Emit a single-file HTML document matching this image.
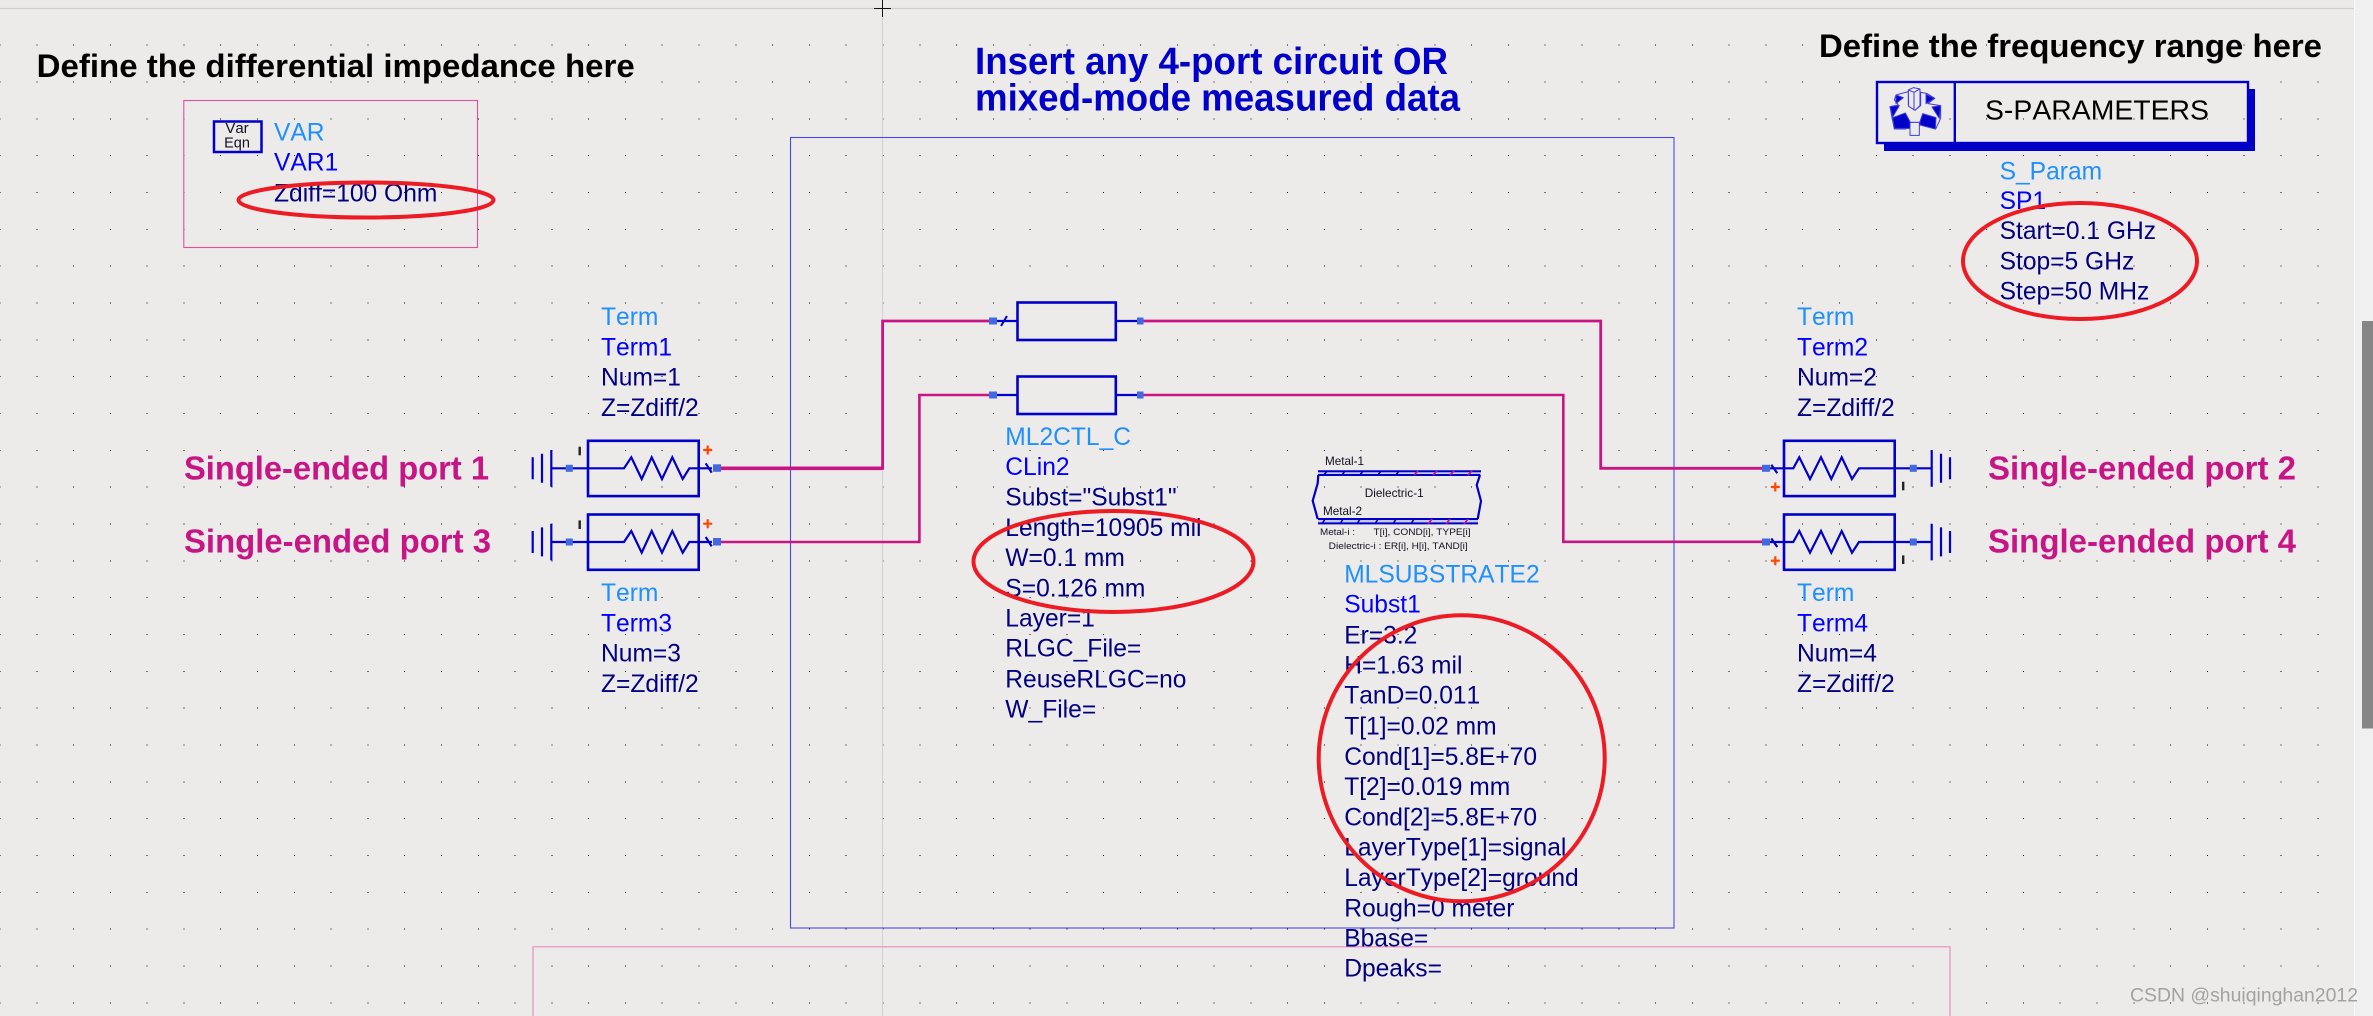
<!DOCTYPE html>
<html>
<head>
<meta charset="utf-8">
<style>
html,body{margin:0;padding:0;width:2373px;height:1016px;overflow:hidden;background:#edeaea}
svg{display:block}
text{font-family:"Liberation Sans",sans-serif;font-size:24.6px;white-space:pre;font-kerning:none}
.t{fill:#1e90ff}.n{fill:#0000ff}.p{fill:#000080}
.h{font-weight:bold;fill:#000;font-size:32.5px}
.b{font-weight:bold;fill:#0000c8;font-size:38px}
.m{font-weight:bold;fill:#c71585;font-size:33.5px}
.s{fill:#101020;font-size:12px}
.x{fill:#101020;font-size:9.5px}
</style>
</head>
<body>
<svg width="2373" height="1016" viewBox="0 0 2373 1016" xmlns="http://www.w3.org/2000/svg">
<defs>
<g id="termL">
  <rect x="588" y="-27.5" width="110.7" height="55.3" fill="none" stroke="#0000c8" stroke-width="2.6"/>
  <path d="M551.3 0H624L631.3 -11L641.7 10.7L651.7 -11L662 10.7L672.3 -11L682.7 10.7L689.3 0H712" fill="none" stroke="#0000c8" stroke-width="2.2"/>
  <path d="M551.3 -18.3V18.4M542 -14.6V14.4M532.7 -11V11" fill="none" stroke="#0000c8" stroke-width="2.2"/>
  <path d="M705.7 -5L711.7 4.4" fill="none" stroke="#0000c8" stroke-width="2.2"/>
  <rect x="565.8" y="-3.5" width="7" height="7" fill="#4169e1"/>
  <rect x="713" y="-4" width="8" height="7.5" fill="#4169e1"/>
  <rect x="578.5" y="-21.6" width="2.4" height="8.6" fill="#222"/>
  <path d="M703.2 -18.3H712.2M707.7 -22.8V-13.8" stroke="#ff4500" stroke-width="2.2" fill="none"/>
</g>
<g id="termR">
  <rect x="1784" y="-27.5" width="110.7" height="55.3" fill="none" stroke="#0000c8" stroke-width="2.6"/>
  <path d="M1766 0H1793.3L1799.3 -11L1810 10.7L1821 -11L1831.3 10.7L1841.7 -11L1852 10.7L1859 0H1931.7" fill="none" stroke="#0000c8" stroke-width="2.2"/>
  <path d="M1931.7 -18.3V18.4M1941 -14.6V14.4M1950 -11V11" fill="none" stroke="#0000c8" stroke-width="2.2"/>
  <path d="M1771.3 -3.5L1777.3 5" fill="none" stroke="#0000c8" stroke-width="2.2"/>
  <rect x="1762" y="-3.5" width="8" height="7" fill="#4169e1"/>
  <rect x="1909.8" y="-3.5" width="7" height="7" fill="#4169e1"/>
  <rect x="1902" y="13.4" width="2.4" height="8.6" fill="#222"/>
  <path d="M1770.8 18.7H1779.8M1775.3 14.2V23.2" stroke="#ff4500" stroke-width="2.2" fill="none"/>
</g>
</defs>

<rect width="2373" height="1016" fill="#edeaea"/>

<!-- grid dots -->
<path shape-rendering="crispEdges" d="M-0.5 8.4H2354M-0.5 45.2H2354M-0.5 82.1H2354M-0.5 118.9H2354M-0.5 155.7H2354M-0.5 192.6H2354M-0.5 229.4H2354M-0.5 266.2H2354M-0.5 303H2354M-0.5 339.9H2354M-0.5 376.7H2354M-0.5 413.5H2354M-0.5 450.4H2354M-0.5 487.2H2354M-0.5 524H2354M-0.5 560.9H2354M-0.5 597.7H2354M-0.5 634.5H2354M-0.5 671.3H2354M-0.5 708.2H2354M-0.5 745H2354M-0.5 781.8H2354M-0.5 818.7H2354M-0.5 855.5H2354M-0.5 892.3H2354M-0.5 929.2H2354M-0.5 966H2354M-0.5 1002.8H2354" fill="none" stroke="#000" stroke-width="1" stroke-dasharray="1 35.79"/>

<!-- crosshair guides -->
<path d="M0 8.5H2354" stroke="#cfcfcf" stroke-width="1.2" fill="none"/>
<path d="M882.5 0V1016" stroke="#d2d2d2" stroke-width="1" fill="none"/>
<path d="M874 8.5H891M882.5 0V17" stroke="#111" stroke-width="1" fill="none"/>

<!-- right strip -->
<rect x="2354" y="0" width="19" height="1016" fill="#f0f0f0"/>
<rect x="2354" y="0" width="1" height="1016" fill="#fafafa"/>
<rect x="2362" y="321" width="11" height="407.5" fill="#868686"/>

<!-- frames -->
<rect x="183.8" y="100.5" width="293.7" height="147" fill="none" stroke="#e050a0" stroke-width="1.1"/>
<rect x="790.5" y="137.5" width="883.5" height="790.5" fill="none" stroke="#4a4ae0" stroke-width="1.1"/>
<path d="M533 1016V946.8H1950V1016" fill="none" stroke="#e68ec0" stroke-width="1.2"/>

<!-- headings -->
<text class="h" x="36.7" y="77" textLength="598" lengthAdjust="spacingAndGlyphs">Define the differential impedance here</text>
<text class="h" x="1819" y="57" textLength="503" lengthAdjust="spacingAndGlyphs">Define the frequency range here</text>
<text class="b" x="975" y="74" textLength="473" lengthAdjust="spacingAndGlyphs">Insert any 4-port circuit OR</text>
<text class="b" x="975" y="110.7" textLength="485" lengthAdjust="spacingAndGlyphs">mixed-mode measured data</text>

<!-- VAR -->
<rect x="214" y="121.5" width="47.5" height="30.5" fill="none" stroke="#0000c8" stroke-width="2.5"/>
<text x="237" y="133" text-anchor="middle" style="font-size:15px" fill="#101020">Var</text>
<text x="237" y="147.7" text-anchor="middle" style="font-size:14.5px" fill="#101020">Eqn</text>
<text class="t" x="274" y="140.7">VAR</text>
<text class="n" x="274" y="170.7">VAR1</text>
<text class="p" x="274" y="201.3">Zdiff=100 Ohm</text>

<!-- S-Parameters block -->
<path d="M1884 144H2248.5V89H2255V151H1884Z" fill="#0000c8"/>
<rect x="1877" y="82" width="371" height="61" fill="none" stroke="#0000c8" stroke-width="2.4"/>
<rect x="1953.6" y="82" width="2.4" height="61" fill="#0000c8"/>
<g transform="translate(1870 75) scale(.3333)" stroke="#3c3ce0" stroke-width="3" stroke-linejoin="round">
  <path d="M78 60L115 50V90L135 105L152 92V52L170 55L194 70L174 86L212 92V130L197 162L155 147V142H120V158L105 162H73L66 128L60 95L85 90L73 75Z" fill="#edeaea"/>
  <path d="M78 60L100 68L78 86ZM168 58L194 70L168 86ZM60 95L88 92L68 126ZM186 96L212 92L208 130Z" fill="#0000c8"/>
  <path d="M68 128L106 114L120 140V160L73 160ZM150 140L158 116L198 128L196 162L150 150Z" fill="#0000c8"/>
  <path d="M120 142H148V181H120Z" fill="#edeaea"/>
  <path d="M115 45L130 38L150 42V92L135 106L116 94Z" fill="#edeaea"/>
  <path d="M115 45L132 52L150 42M132 52V106" fill="none"/>
</g>
<text x="1985" y="119.3" style="font-size:28px" fill="#000" textLength="224" lengthAdjust="spacingAndGlyphs">S-PARAMETERS</text>
<text class="t" x="1999.6" y="179.3">S_Param</text>
<text class="n" x="1999.6" y="209">SP1</text>
<text class="p" x="1999.6" y="239">Start=0.1 GHz</text>
<text class="p" x="1999.6" y="269.3">Stop=5 GHz</text>
<text class="p" x="1999.6" y="299.3">Step=50 MHz</text>

<!-- Wires -->
<path d="M721 468.3H882.6V321H993" fill="none" stroke="#c71585" stroke-width="2.8"/>
<path d="M721 468.3H882" fill="none" stroke="#c71585" stroke-width="3.6"/>
<path d="M721 542H919.4V395H993" fill="none" stroke="#c71585" stroke-width="2.6"/>
<path d="M1140 321H1600.7V468.3H1766" fill="none" stroke="#c71585" stroke-width="2.8"/>
<path d="M1140 395H1563.3V541.8H1766" fill="none" stroke="#c71585" stroke-width="2.6"/>

<!-- Terminations -->
<use href="#termL" transform="translate(0 468.3)"/>
<use href="#termL" transform="translate(0 542)"/>
<use href="#termR" transform="translate(0 468.3)"/>
<use href="#termR" transform="translate(0 542)"/>

<text class="t" x="601" y="325">Term</text>
<text class="n" x="601" y="355.3">Term1</text>
<text class="p" x="601" y="385.6">Num=1</text>
<text class="p" x="601" y="416">Z=Zdiff/2</text>
<text class="t" x="601" y="601">Term</text>
<text class="n" x="601" y="631.3">Term3</text>
<text class="p" x="601" y="661.6">Num=3</text>
<text class="p" x="601" y="692">Z=Zdiff/2</text>

<text class="t" x="1797" y="325">Term</text>
<text class="n" x="1797" y="355.3">Term2</text>
<text class="p" x="1797" y="385.6">Num=2</text>
<text class="p" x="1797" y="416">Z=Zdiff/2</text>
<text class="t" x="1797" y="601">Term</text>
<text class="n" x="1797" y="631.3">Term4</text>
<text class="p" x="1797" y="661.6">Num=4</text>
<text class="p" x="1797" y="692">Z=Zdiff/2</text>

<text class="m" x="184" y="479.3" textLength="305" lengthAdjust="spacingAndGlyphs">Single-ended port 1</text>
<text class="m" x="184" y="552.7" textLength="307" lengthAdjust="spacingAndGlyphs">Single-ended port 3</text>
<text class="m" x="1988" y="479.3" textLength="308" lengthAdjust="spacingAndGlyphs">Single-ended port 2</text>
<text class="m" x="1988" y="552.7" textLength="308" lengthAdjust="spacingAndGlyphs">Single-ended port 4</text>

<!-- Coupled line symbol -->
<rect x="1017.5" y="302.5" width="98.3" height="37.5" fill="none" stroke="#0000c8" stroke-width="2.6"/>
<rect x="1017.5" y="376.5" width="98.3" height="37.5" fill="none" stroke="#0000c8" stroke-width="2.6"/>
<path d="M993 321H1017.5M1115.8 321H1140M993 395H1017.5M1115.8 395H1140" stroke="#0000c8" stroke-width="2.2" fill="none"/>
<path d="M1001 326L1007 316" stroke="#0000c8" stroke-width="2" fill="none"/>
<rect x="989" y="317.5" width="8" height="7" fill="#4169e1"/>
<rect x="989" y="391.5" width="8" height="7" fill="#4169e1"/>
<rect x="1137" y="317.5" width="6.5" height="7" fill="#4169e1"/>
<rect x="1137" y="391.5" width="6.5" height="7" fill="#4169e1"/>

<text class="t" x="1005.3" y="445">ML2CTL_C</text>
<text class="n" x="1005.3" y="475">CLin2</text>
<text class="p" x="1005.3" y="505.7">Subst="Subst1"</text>
<text class="p" x="1005.3" y="536">Length=10905 mil</text>
<text class="p" x="1005.3" y="566">W=0.1 mm</text>
<text class="p" x="1005.3" y="596.7">S=0.126 mm</text>
<text class="p" x="1005.3" y="626.7">Layer=1</text>
<text class="p" x="1005.3" y="656.7">RLGC_File=</text>
<text class="p" x="1005.3" y="687.3">ReuseRLGC=no</text>
<text class="p" x="1005.3" y="717.7">W_File=</text>

<!-- Substrate symbol -->
<rect x="1318" y="471" width="163" height="4.2" fill="#c9c9ee"/>
<rect x="1318" y="519" width="160" height="4.6" fill="#c9c9ee"/>
<path d="M1318 471.2H1481M1318 475H1480M1318 519H1478M1318 523.4H1478" stroke="#0000c8" stroke-width="2" fill="none"/>
<path d="M1318.3 475L1317.7 483.3L1312.7 500.7L1317.7 519M1480 475L1476.7 485L1481 501L1477.7 519" stroke="#0000c8" stroke-width="2.2" fill="none"/>
<path d="M1324 475L1327 471M1342 475L1345 471M1360 475L1363 471M1378 475L1381 471M1396 475L1399 471M1322 524L1325 519M1340 524L1343 519M1357 524L1360 519M1375 524L1378 519M1393 524L1396 519M1411 524L1414 519" stroke="#0000c8" stroke-width="1.6" fill="none"/>
<path d="M1414 475L1418 471M1433 475L1437 471M1450 475L1454 471M1468 475L1472 471M1428 524L1432 519M1446 524L1450 519M1464 524L1468 519" stroke="#c71585" stroke-width="1.8" fill="none"/>
<text class="s" x="1325" y="465" textLength="39" lengthAdjust="spacingAndGlyphs">Metal-1</text>
<text class="s" x="1364.7" y="497" textLength="59" lengthAdjust="spacingAndGlyphs">Dielectric-1</text>
<text class="s" x="1323" y="515" textLength="39" lengthAdjust="spacingAndGlyphs">Metal-2</text>
<text class="x" x="1320" y="535" textLength="35" lengthAdjust="spacingAndGlyphs">Metal-i :</text>
<text class="x" x="1373.5" y="535" textLength="97" lengthAdjust="spacingAndGlyphs">T[i], COND[i], TYPE[i]</text>
<text class="x" x="1328.7" y="549" textLength="139" lengthAdjust="spacingAndGlyphs">Dielectric-i : ER[i], H[i], TAND[i]</text>

<text class="t" x="1344.2" y="582.3">MLSUBSTRATE2</text>
<text class="n" x="1344.2" y="612.3">Subst1</text>
<text class="p" x="1344.2" y="643.3">Er=3.2</text>
<text class="p" x="1344.2" y="673.3">H=1.63 mil</text>
<text class="p" x="1344.2" y="703.7">TanD=0.011</text>
<text class="p" x="1344.2" y="734.3">T[1]=0.02 mm</text>
<text class="p" x="1344.2" y="765">Cond[1]=5.8E+70</text>
<text class="p" x="1344.2" y="795">T[2]=0.019 mm</text>
<text class="p" x="1344.2" y="825.7">Cond[2]=5.8E+70</text>
<text class="p" x="1344.2" y="855.7">LayerType[1]=signal</text>
<text class="p" x="1344.2" y="886">LayerType[2]=ground</text>
<text class="p" x="1344.2" y="916.7">Rough=0 meter</text>
<text class="p" x="1344.2" y="946.7">Bbase=</text>
<text class="p" x="1344.2" y="976.7">Dpeaks=</text>

<!-- Red annotation ellipses -->
<g fill="none" stroke="#ed1c24" stroke-width="4">
  <ellipse cx="366" cy="200" rx="127.5" ry="17.5"/>
  <ellipse cx="2080" cy="261" rx="117" ry="58"/>
  <ellipse cx="1113.5" cy="561.5" rx="140" ry="50.5"/>
  <ellipse cx="1461.7" cy="758.3" rx="143" ry="143"/>
</g>

<!-- Watermark -->
<text x="2130" y="1001.7" style="font-size:19px" fill="#a2a2a2" textLength="228" lengthAdjust="spacingAndGlyphs">CSDN @shuiqinghan2012</text>
</svg>
</body>
</html>
